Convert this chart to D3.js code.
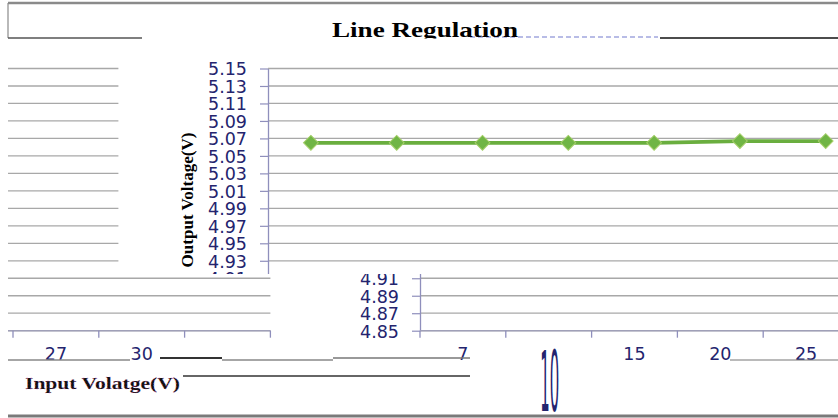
<!DOCTYPE html>
<html>
<head>
<meta charset="utf-8">
<script src="https://cdn.jsdelivr.net/npm/d3@7"></script>
<style>
  html, body { margin: 0; padding: 0; background: #fff; }
  svg { display: block; }
</style>
</head>
<body>
<svg id="chart" width="838" height="418"></svg>
<script>
// ---- data ----
const categories = ["7", "10", "15", "20", "25", "27", "30"];           // input voltage (V)
const outputVoltage = [5.065, 5.065, 5.065, 5.065, 5.065, 5.067, 5.067]; // output voltage (V)
const yTickValues = [4.85, 4.87, 4.89, 4.91, 4.93, 4.95, 4.97, 4.99, 5.01, 5.03, 5.05, 5.07, 5.09, 5.11, 5.13, 5.15];
const yTickLabels = ["4.85", "4.87", "4.89", "4.91", "4.93", "4.95", "4.97", "4.99", "5.01", "5.03", "5.05", "5.07", "5.09", "5.11", "5.13", "5.15"];
const chartTitle = "Line Regulation";
const yTitle = "Output Voltage(V)";
const xTitle = "Input Volatge(V)";

// ---- scales ----
const y = d3.scaleLinear().domain([4.85, 5.15]).range([330.7, 68.5]);
const x = d3.scaleBand().domain(categories).range([0, categories.length * 85.8]);
const step = x.step();
const axisEnd = x.range()[1] + step;

const svg = d3.select("#chart");
const defs = svg.append("defs");

const labelColor = "#24246e";
const gridColor = "#a8a8a8";
const axisColor = "#8f8fbc";

// Draws the whole plot with its value axis at local x = 0.
function drawPlot(g) {
  // horizontal gridlines
  g.selectAll("line.grid")
    .data(yTickValues)
    .join("line")
    .attr("class", "grid")
    .attr("x1", 0).attr("x2", axisEnd)
    .attr("y1", d => y(d)).attr("y2", d => y(d))
    .attr("stroke", gridColor).attr("stroke-width", 1.3);

  // value axis
  const yAxis = d3.axisLeft(y)
    .tickValues(yTickValues)
    .tickFormat((d, i) => yTickLabels[i])
    .tickSize(8).tickSizeOuter(0).tickPadding(13);
  const ya = g.append("g").call(yAxis);
  ya.select(".domain").attr("stroke", axisColor).attr("stroke-width", 1.3);
  ya.selectAll(".tick line").attr("stroke", axisColor).attr("stroke-width", 1.2);
  ya.selectAll(".tick text")
    .attr("fill", labelColor)
    .attr("font-family", "DejaVu Sans, sans-serif")
    .attr("font-size", 17.5)
    .attr("dy", "0.36em");

  // category axis line and boundary ticks
  const base = y(4.85);
  g.append("line")
    .attr("x1", 0).attr("x2", axisEnd)
    .attr("y1", base).attr("y2", base)
    .attr("stroke", "#a0a0b8").attr("stroke-width", 1.4);
  const bounds = [0, ...categories.map(c => x(c) + step)];
  bounds.push(axisEnd);
  g.selectAll("line.xtick")
    .data(bounds)
    .join("line")
    .attr("class", "xtick")
    .attr("x1", d => d).attr("x2", d => d)
    .attr("y1", base).attr("y2", base + 7)
    .attr("stroke", axisColor).attr("stroke-width", 1.3);

  // category labels
  g.selectAll("text.xlab")
    .data(categories)
    .join("text")
    .attr("class", "xlab")
    .attr("text-anchor", "middle")
    .attr("fill", labelColor)
    .attr("font-family", "DejaVu Sans, sans-serif")
    .attr("font-size", 17.5)
    .attr("transform", d => d === "10"
      ? `translate(${x(d) + x.bandwidth() / 2 + 1},411) scale(0.85,4.8)`
      : `translate(${x(d) + x.bandwidth() / 2},359.5)`)
    .text(d => d);

  // axis title
  g.append("text")
    .attr("transform", `translate(-75,200) rotate(-90)`)
    .attr("text-anchor", "middle")
    .attr("font-family", "Liberation Serif, Times New Roman, serif")
    .attr("font-weight", "bold")
    .attr("font-size", 16)
    .attr("textLength", 135)
    .attr("lengthAdjust", "spacingAndGlyphs")
    .attr("fill", "#000")
    .text(yTitle);

  // series
  const cx = (d, i) => x(categories[i]) + x.bandwidth() / 2;
  g.append("path")
    .datum(outputVoltage)
    .attr("d", d3.line().x(cx).y(d => y(d)))
    .attr("fill", "none")
    .attr("stroke", "#6aae3f")
    .attr("stroke-width", 3.8);
  const diamond = d3.symbol().type(d3.symbolSquare).size(110);
  g.selectAll("path.mk")
    .data(outputVoltage)
    .join("path")
    .attr("class", "mk")
    .attr("d", diamond)
    .attr("transform", (d, i) => `translate(${cx(d, i)},${y(d)}) rotate(45)`)
    .attr("fill", "#70b545")
    .attr("stroke", "#a6cf6a")
    .attr("stroke-width", 1);
}

// the plot appears in four horizontally offset strips
const strips = [
  { id: "s1", dx: 268,        clip: [125, 45, 713, 229] },
  { id: "s2", dx: 268 - 836,  clip: [8, 45, 117, 229] },
  { id: "s3", dx: 420,        clip: [272, 274, 566, 138] },
  { id: "s4", dx: 420 - 836,  clip: [8, 274, 264, 91] }
];
strips.forEach(s => {
  defs.append("clipPath").attr("id", s.id)
    .append("rect")
    .attr("x", s.clip[0]).attr("y", s.clip[1])
    .attr("width", s.clip[2]).attr("height", s.clip[3]);
  const outer = svg.append("g").attr("clip-path", `url(#${s.id})`);
  drawPlot(outer.append("g").attr("transform", `translate(${s.dx},0)`));
});

// ---- frame and titles ----
const frame = svg.append("g").attr("fill", "none");
frame.append("line").attr("x1", 8).attr("x2", 838).attr("y1", 3).attr("y2", 3)
  .attr("stroke", "#8a8a8a").attr("stroke-width", 2.5);
frame.append("line").attr("x1", 8).attr("x2", 8).attr("y1", 3).attr("y2", 38)
  .attr("stroke", "#8a8a8a").attr("stroke-width", 1.2);
frame.append("line").attr("x1", 8).attr("x2", 142).attr("y1", 38).attr("y2", 38)
  .attr("stroke", "#555").attr("stroke-width", 1.5);
frame.append("line").attr("x1", 660).attr("x2", 838).attr("y1", 38).attr("y2", 38)
  .attr("stroke", "#111").attr("stroke-width", 1.5);
frame.append("line").attr("x1", 470).attr("x2", 658).attr("y1", 37).attr("y2", 37)
  .attr("stroke", "#b8bce6").attr("stroke-width", 2).attr("stroke-dasharray", "5,3");
frame.append("line").attr("x1", 8).attr("x2", 838).attr("y1", 416).attr("y2", 416)
  .attr("stroke", "#7a7a7a").attr("stroke-width", 3);

// rules under the category labels
const rules = [
  [8, 130, 360, "#888", 1.4],
  [160, 222, 358, "#333", 2.2],
  [222, 333, 360, "#888", 1.4],
  [333, 470, 358, "#777", 1.4],
  [183, 470, 376, "#666", 2],
  [730, 838, 360, "#777", 1.2]
];
frame.selectAll("line.rule").data(rules).join("line").attr("class", "rule")
  .attr("x1", d => d[0]).attr("x2", d => d[1])
  .attr("y1", d => d[2]).attr("y2", d => d[2])
  .attr("stroke", d => d[3]).attr("stroke-width", d => d[4]);

defs.append("clipPath").attr("id", "titleClip")
  .append("rect").attr("x", 300).attr("y", 0).attr("width", 260).attr("height", 38.5);
svg.append("text")
  .attr("clip-path", "url(#titleClip)")
  .attr("x", 332).attr("y", 37)
  .attr("font-family", "Liberation Serif, Times New Roman, serif")
  .attr("font-weight", "bold")
  .attr("font-size", 21)
  .attr("textLength", 186)
  .attr("lengthAdjust", "spacingAndGlyphs")
  .attr("fill", "#000")
  .text(chartTitle);

svg.append("text")
  .attr("x", 25).attr("y", 389)
  .attr("font-family", "Liberation Serif, Times New Roman, serif")
  .attr("font-weight", "bold")
  .attr("font-size", 16)
  .attr("textLength", 155)
  .attr("lengthAdjust", "spacingAndGlyphs")
  .attr("fill", "#111")
  .attr("stroke", "#e070d0").attr("stroke-width", 0.4).attr("stroke-dasharray", "1,2")
  .text(xTitle);
</script>
</body>
</html>
